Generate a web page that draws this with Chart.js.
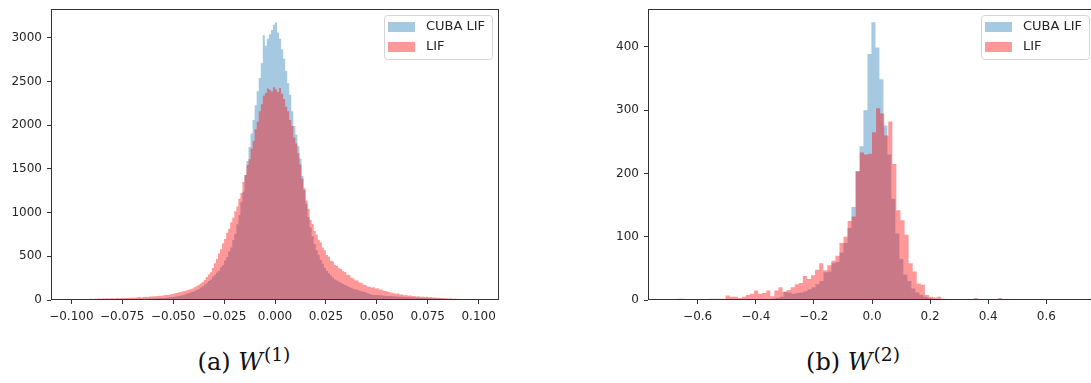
<!DOCTYPE html>
<html>
<head>
<meta charset="utf-8">
<script src="https://cdn.jsdelivr.net/npm/chart.js"></script>
<style>
  html, body { margin: 0; padding: 0; background: #fff; }
  #wrap { position: relative; width: 1091px; height: 383px; overflow: hidden; }
  canvas { position: absolute; top: 0; }
  #c1 { left: 0; }
  #c2 { left: 597px; }
  .cap { position: absolute; top: 350px; font-family: "DejaVu Serif", serif; font-size: 24px; line-height: 1; color: #111; white-space: nowrap; transform: translateX(-50%); }
  .cap sup { font-size: 78%; vertical-align: baseline; position: relative; top: -0.5em; margin-left: 1px; }
</style>
</head>
<body>
<div id="wrap">
  <canvas id="c1" width="510" height="330"></canvas>
  <canvas id="c2" width="510" height="330"></canvas>
  <div class="cap" style="left:244px">(a) <i>W</i><sup>(1)</sup></div>
  <div class="cap" style="left:853px">(b) <i>W</i><sup>(2)</sup></div>
</div>
<script>
// W(1): 200 bins of width 0.001 between -0.1 and 0.1
const w1Start = -0.1;
const w1Width = 0.001;
const w1Cuba = [
  0, 1, 0, 2, 0, 1, 2, 1, 3, 2,
  3, 2, 4, 3, 4, 5, 3, 5, 4, 6,
  5, 6, 7, 6, 8, 7, 9, 8, 10, 9,
  11, 10, 12, 13, 12, 14, 15, 14, 16, 17,
  18, 20, 19, 22, 24, 23, 27, 29, 32, 35,
  37, 41, 45, 50, 55, 61, 68, 76, 85, 93,
  100, 114, 123, 142, 154, 176, 191, 218, 235, 265,
  285, 316, 334, 374, 400, 452, 492, 555, 602, 688,
  755, 868, 972, 1120, 1240, 1430, 1590, 1750, 1905, 2060,
  2230, 2390, 2540, 2710, 3030, 2910, 2990, 3040, 3090, 3150,
  3175, 3060, 2990, 2870, 2760, 2620, 2480, 2350, 2160, 1990,
  1890, 1760, 1620, 1420, 1260, 1100, 950, 830, 730, 640,
  570, 515, 460, 415, 370, 335, 305, 280, 258, 235,
  222, 210, 196, 184, 172, 162, 150, 140, 130, 122,
  116, 108, 100, 94, 88, 78, 70, 64, 60, 56,
  58, 55, 53, 50, 48, 46, 45, 43, 42, 40,
  39, 38, 37, 35, 34, 33, 31, 30, 29, 28,
  27, 25, 24, 23, 22, 21, 20, 19, 19, 18,
  17, 15, 14, 13, 12, 11, 10, 9, 8, 7,
  6, 5, 5, 4, 3, 3, 2, 2, 1, 1
];
const w1Lif = [
  3, 6, 0, 8, 5, 11, 7, 12, 9, 14,
  11, 15, 13, 17, 14, 18, 16, 20, 17, 19,
  21, 18, 23, 20, 24, 22, 26, 23, 27, 25,
  29, 27, 31, 33, 30, 35, 37, 34, 39, 41,
  44, 42, 47, 50, 48, 54, 58, 56, 63, 68,
  74, 79, 85, 90, 97, 102, 110, 117, 124, 133,
  145, 157, 172, 190, 205, 228, 262, 292, 318, 365,
  420, 468, 532, 580, 650, 698, 770, 815, 890, 940,
  1015, 1070, 1160, 1225, 1350, 1430, 1545, 1610, 1730, 1820,
  1955, 2040, 2160, 2240, 2340, 2370, 2420, 2405, 2385, 2435,
  2410, 2380, 2425, 2360, 2300, 2210, 2160, 2060, 1990, 1860,
  1790, 1680, 1550, 1390, 1280, 1140, 1045, 915, 870, 790,
  750, 690, 660, 600, 570, 515, 495, 450, 440, 400,
  392, 362, 356, 328, 320, 290, 286, 256, 250, 226,
  222, 200, 196, 176, 172, 154, 153, 142, 146, 132,
  135, 120, 119, 106, 102, 94, 90, 83, 78, 72,
  73, 63, 64, 55, 57, 50, 51, 45, 46, 40,
  43, 37, 39, 34, 36, 31, 33, 28, 29, 25,
  27, 22, 24, 19, 21, 17, 19, 14, 16, 12,
  14, 10, 12, 8, 10, 6, 8, 4, 5, 2
];

// W(2): 100 bins each, every run got its own bin edges
const w2CubaStart = -0.6895;
const w2CubaWidth = 0.01375;
const w2Cuba = [
  0, 0, 0, 0, 0, 0, 0, 0, 0, 0,
  0, 0, 0, 0, 0, 0, 0, 1, 0, 0,
  0, 1, 0, 1,
  1, 2, 3, 5, 13, 12, 10, 11, 12, 14,
  17, 20, 25, 30, 44, 45, 58, 60, 75, 90,
  114, 147, 204, 243, 300, 389, 439, 399, 349, 276,
  230, 160, 105, 65, 40, 30, 18, 12, 8, 5,
  3, 2, 1, 0, 0, 0, 0, 0, 0, 0,
  0, 0, 0, 0, 0, 0, 0, 0, 0, 0,
  0, 0, 0, 0, 0, 0, 0, 0, 0, 0,
  0, 0, 0, 0, 0, 0
];
const w2LifStart = -0.70;
const w2LifWidth = 0.014;
const w2Lif = [
  0, 0, 2, 2, 0, 1, 0, 1, 0, 0,
  2, 2, 2, 2, 7, 5, 5, 3, 5, 8,
  10, 15, 10, 11, 15, 6, 15, 20, 13, 16,
  20, 25, 27, 38, 33, 39, 48, 58, 47, 55,
  62, 70, 90, 100, 125, 132, 203, 233, 230, 231,
  265, 303, 295, 260, 282, 215, 142, 126, 103, 58,
  45, 26, 24, 8, 5, 4, 5, 2, 1, 0,
  1, 0, 0, 0, 0, 3, 0, 0, 0, 0,
  0, 3, 0, 0, 0, 0, 0, 0, 0, 0,
  0, 0, 0, 0, 0, 0, 0, 0, 0, 0
];

const seriesNames = ['CUBA LIF', 'LIF'];
const w1XTicks = [-0.1, -0.075, -0.05, -0.025, 0, 0.025, 0.05, 0.075, 0.1];
const w1YTicks = [0, 500, 1000, 1500, 2000, 2500, 3000];
const w2XTicks = [-0.6, -0.4, -0.2, 0, 0.2, 0.4, 0.6];
const w2YTicks = [0, 100, 200, 300, 400];

const blue = 'rgba(31,119,180,0.4)';
const red = 'rgba(255,0,0,0.4)';
const tickFont = { family: 'DejaVu Sans', size: 12 };

// bin edges -> step points, last edge repeats the last count
const hist = (start, width, counts) => {
  const pts = counts.map((c, i) => ({ x: start + i * width, y: c }));
  pts.push({ x: start + counts.length * width, y: counts[counts.length - 1] });
  return pts;
};
const minus = s => s.replace('-', '\u2212');

const frameAndLegend = {
  id: 'frameAndLegend',
  afterDraw(chart) {
    const { ctx, chartArea: a } = chart;
    ctx.save();
    ctx.strokeStyle = '#333';
    ctx.lineWidth = 1;
    ctx.strokeRect(Math.round(a.left) + 0.5, Math.round(a.top) + 0.5,
      Math.round(a.width) - 1, Math.round(a.height) - 1);

    const w = 108, h = 44;
    const x = Math.round(a.right) - w - 7, y = Math.round(a.top) + 6;
    ctx.fillStyle = 'rgba(255,255,255,0.8)';
    ctx.strokeStyle = '#d4d4d4';
    ctx.beginPath();
    if (ctx.roundRect) ctx.roundRect(x + 0.5, y + 0.5, w, h, 3); else ctx.rect(x + 0.5, y + 0.5, w, h);
    ctx.fill();
    ctx.stroke();
    ctx.font = '13px "DejaVu Sans"';
    ctx.textBaseline = 'middle';
    chart.data.datasets.forEach((d, i) => {
      const cy = y + 12 + i * 20;
      ctx.fillStyle = d.backgroundColor;
      ctx.fillRect(x + 4, cy - 5, 27, 10);
      ctx.fillStyle = '#262626';
      ctx.fillText(d.label, x + 42, cy);
    });
    ctx.restore();
  }
};

function drawHist(id, cuba, lif, xMin, xMax, xTicks, dec, yMax, yTicks) {
  return new Chart(document.getElementById(id), {
    type: 'line',
    data: {
      datasets: [
        { label: seriesNames[0], data: cuba, backgroundColor: blue, order: 2 },
        { label: seriesNames[1], data: lif, backgroundColor: red, order: 1 }
      ].map(d => Object.assign(d, {
        borderColor: 'rgba(0,0,0,0)', borderWidth: 0, fill: 'origin',
        stepped: 'before', pointRadius: 0, tension: 0
      }))
    },
    options: {
      responsive: false,
      animation: false,
      devicePixelRatio: 1,
      layout: { padding: { top: 9, right: 11, left: 0, bottom: 0 } },
      plugins: { legend: { display: false }, tooltip: { enabled: false } },
      scales: {
        x: {
          type: 'linear', min: xMin, max: xMax,
          border: { display: false },
          grid: { drawOnChartArea: false, drawTicks: true, tickLength: 4, color: '#333' },
          ticks: { font: tickFont, color: '#262626', padding: 6, autoSkip: false, maxRotation: 0,
            callback: v => minus(Number(v).toFixed(dec)) },
          afterBuildTicks: s => { s.ticks = xTicks.map(v => ({ value: v })); },
          afterFit: s => { s.height = 30; s.paddingLeft = 0; s.paddingRight = 0; }
        },
        y: {
          min: 0, max: yMax,
          border: { display: false },
          grid: { drawOnChartArea: false, drawTicks: true, tickLength: 4, color: '#333' },
          ticks: { font: tickFont, color: '#262626', padding: 5, autoSkip: false,
            callback: v => String(v) },
          afterBuildTicks: s => { s.ticks = yTicks.map(v => ({ value: v })); },
          afterFit: s => { s.width = 51; s.paddingTop = 0; s.paddingBottom = 0; }
        }
      }
    },
    plugins: [frameAndLegend]
  });
}

drawHist('c1', hist(w1Start, w1Width, w1Cuba), hist(w1Start, w1Width, w1Lif),
  -0.11, 0.11, w1XTicks, 3, 3330, w1YTicks);
drawHist('c2', hist(w2CubaStart, w2CubaWidth, w2Cuba), hist(w2LifStart, w2LifWidth, w2Lif),
  -0.771, 0.771, w2XTicks, 1, 460, w2YTicks);
</script>
</body>
</html>
